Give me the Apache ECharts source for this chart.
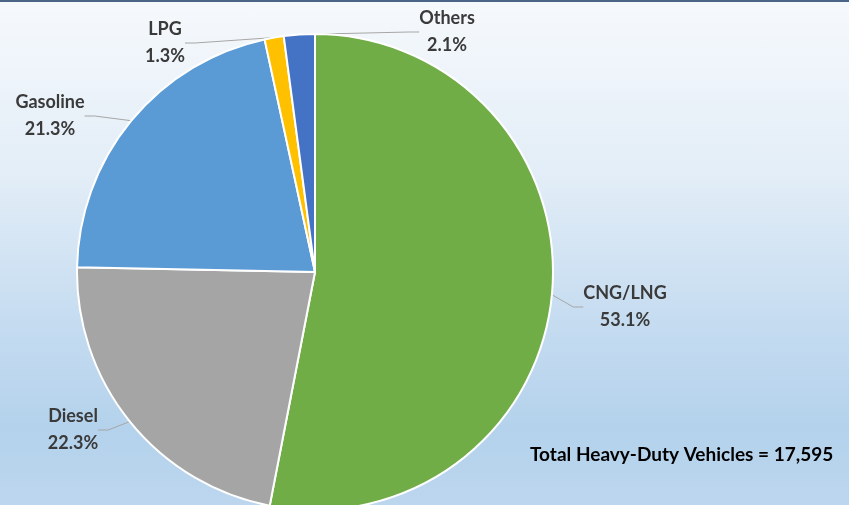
<!DOCTYPE html>
<html>
<head>
<meta charset="utf-8">
<script src="https://cdn.jsdelivr.net/npm/echarts@6/dist/echarts.min.js"></script>
<style>
  html, body { margin: 0; padding: 0; }
  body {
    width: 849px; height: 505px; overflow: hidden;
    background: linear-gradient(to bottom, #f6f9fc 0%, #e2edf7 35%, #c4dbf0 65%, #b4d2ec 85%, #bcd6ee 100%);
  }
  #chart { width: 849px; height: 505px; }
</style>
</head>
<body>
<div id="chart"></div>
<script>
  // 燃料类型与占比(%)
  var categories = ['CNG/LNG', 'Diesel', 'Gasoline', 'LPG', 'Others'];
  var shares = [53.1, 22.3, 21.3, 1.3, 2.1];
  var colors = ['#70ad47', '#a5a5a5', '#5b9bd5', '#ffc000', '#4472c4'];
  var totalText = 'Total Heavy-Duty Vehicles = 17,595';

  // 标签位置 (x, y)
  var labelPos = [[625, 307], [73, 430], [50, 116], [165, 43], [447, 32]];

  var myChart = echarts.init(document.getElementById('chart'));
  myChart.setOption({
    animation: false,
    graphic: [
      { type: 'rect', shape: { x: 0, y: 0, width: 849, height: 2 }, style: { fill: '#4a6586' } },
      {
        type: 'text', left: 530, top: 445,
        style: { text: totalText, fill: '#000', font: 'bold 19px Lato, "Open Sans", sans-serif' }
      }
    ],
    series: [
      {
        type: 'pie',
        center: [315, 272],
        radius: 238,
        startAngle: 90,
        clockwise: true,
        avoidLabelOverlap: false,
        itemStyle: { borderColor: '#fff', borderWidth: 2 },
        label: {
          show: true,
          position: 'outside',
          formatter: function (p) { return p.name + '\n' + p.value.toFixed(1) + '%'; },
          color: '#3a3a3a',
          fontSize: 18,
          fontWeight: 'bold',
          fontFamily: 'Lato, "Open Sans", sans-serif',
          lineHeight: 27,
          align: 'center'
        },
        labelLine: {
          show: true,
          length: 10,
          length2: 10,
          lineStyle: { color: '#a6a6a6', width: 1 }
        },
        labelLayout: function (params) {
          var pos = labelPos[params.dataIndex];
          return { x: pos[0], y: pos[1], align: 'center', verticalAlign: 'middle' };
        },
        emphasis: { disabled: true },
        data: categories.map(function (c, i) {
          return { name: c, value: shares[i], itemStyle: { color: colors[i] } };
        })
      }
    ]
  });
</script>
</body>
</html>
